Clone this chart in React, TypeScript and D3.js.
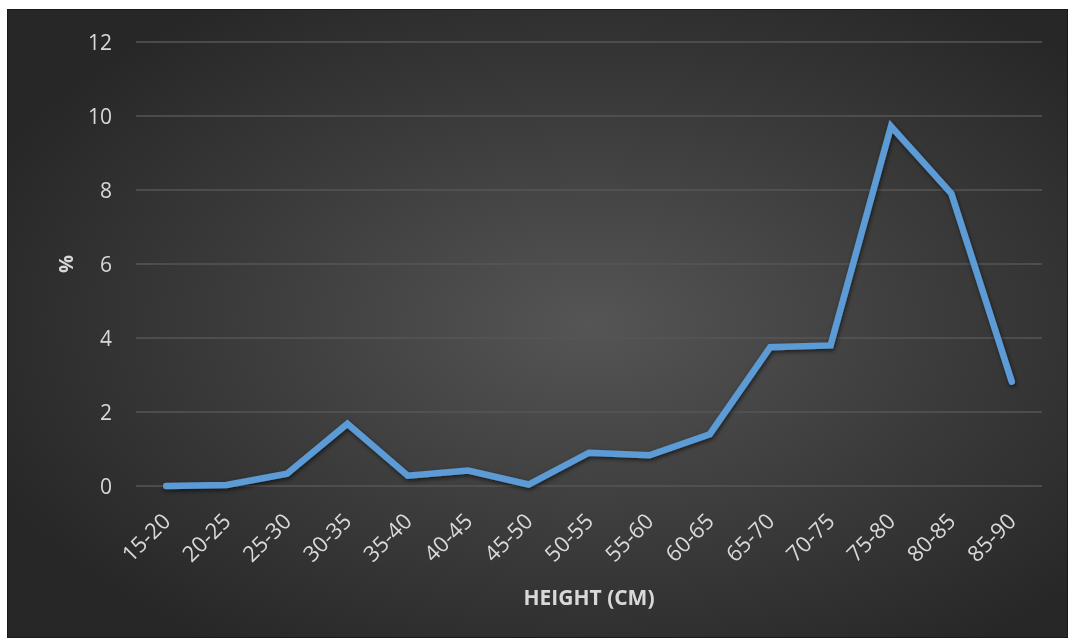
import React from "react";
import * as d3 from "d3";

const categories = [
  "15-20", "20-25", "25-30", "30-35", "35-40", "40-45", "45-50", "50-55",
  "55-60", "60-65", "65-70", "70-75", "75-80", "80-85", "85-90",
];
const percentValues = [
  0, 0.03, 0.33, 1.68, 0.28, 0.42, 0.04, 0.9, 0.83, 1.4, 3.75, 3.8, 9.72, 7.9, 2.82,
];
const yTicks = [0, 2, 4, 6, 8, 10, 12];

const W = 1068;
const H = 638;
const plot = { left: 136, right: 1042, top: 42, bottom: 486 };
const font = "'Open Sans', 'Liberation Sans', sans-serif";
const labelColor = "#d9d9d9";

export default function App() {
  const x = d3
    .scaleBand<string>()
    .domain(categories)
    .range([plot.left, plot.right]);
  const y = d3.scaleLinear().domain([0, 12]).range([plot.bottom, plot.top]);
  const cx = (c: string) => (x(c) ?? 0) + x.bandwidth() / 2;

  const line = d3
    .line<number>()
    .x((_, i) => cx(categories[i]))
    .y((v) => y(v));
  const path = line(percentValues) ?? "";

  return (
    <svg
      width={W}
      height={H}
      style={{ position: "absolute", left: 0, top: 0, display: "block" }}
    >
      <defs>
        <radialGradient id="bg" cx="0.55" cy="0.5" r="0.62">
          <stop offset="0" stopColor="#555555" />
          <stop offset="0.55" stopColor="#3b3b3b" />
          <stop offset="1" stopColor="#272727" />
        </radialGradient>
        <filter id="shadow" x="-5%" y="-5%" width="110%" height="115%">
          <feGaussianBlur in="SourceAlpha" stdDeviation="2" />
          <feOffset dx="1" dy="2" result="b" />
          <feComponentTransfer>
            <feFuncA type="linear" slope="0.6" />
          </feComponentTransfer>
          <feMerge>
            <feMergeNode />
            <feMergeNode in="SourceGraphic" />
          </feMerge>
        </filter>
        <filter id="soft">
          <feGaussianBlur stdDeviation="0.4" />
        </filter>
      </defs>
      <rect x={0} y={0} width={W} height={H} fill="#ffffff" />
      <rect x={7} y={9} width={W - 7} height={H - 9} fill="url(#bg)" />
      <rect
        x={7.5}
        y={9.5}
        width={W - 8}
        height={H - 10}
        fill="none"
        stroke="#1a1a1a"
        strokeWidth={1}
      />

      {yTicks.map((t) => (
        <line
          key={t}
          x1={plot.left}
          x2={plot.right}
          y1={y(t)}
          y2={y(t)}
          stroke="#565656"
          strokeWidth={1.5}
        />
      ))}

      <g filter="url(#soft)">
        {yTicks.map((t) => (
          <text
            key={t}
            x={112}
            y={y(t)}
            dy="0.36em"
            textAnchor="end"
            fill={labelColor}
            fontFamily={font}
            fontSize={21}
          >
            {t}
          </text>
        ))}

        <text
          transform={`translate(66, ${y(6)}) rotate(-90)`}
          textAnchor="middle"
          dy="0.36em"
          fill={labelColor}
          fontFamily={font}
          fontSize={20}
          fontWeight="bold"
        >
          %
        </text>

        {categories.map((c) => (
          <text
            key={c}
            transform={`translate(${cx(c)}, ${plot.bottom + 31}) rotate(-45)`}
            textAnchor="end"
            dy="0.36em"
            fill={labelColor}
            fontFamily={font}
            fontSize={22}
          >
            {c}
          </text>
        ))}

        <text
          x={(plot.left + plot.right) / 2}
          y={605}
          textAnchor="middle"
          fill={labelColor}
          fontFamily={font}
          fontSize={21}
          fontWeight="bold"
        >
          HEIGHT (CM)
        </text>
      </g>

      <path
        d={path}
        fill="none"
        stroke="#5b9bd5"
        strokeWidth={6.5}
        strokeLinejoin="miter"
        strokeLinecap="round"
        filter="url(#shadow)"
      />
    </svg>
  );
}
